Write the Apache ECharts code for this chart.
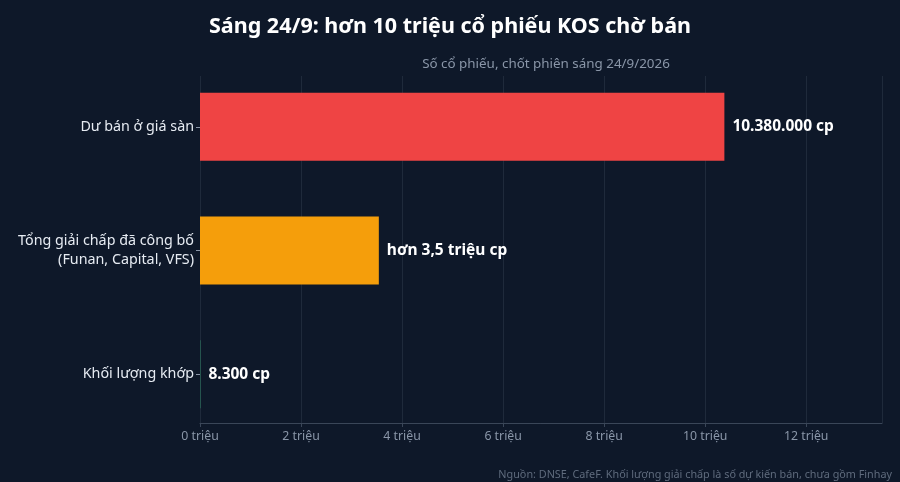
<!DOCTYPE html>
<html>
<head>
<meta charset="utf-8">
<script src="https://cdn.jsdelivr.net/npm/echarts@6/dist/echarts.min.js"></script>
<style>
  html, body { margin: 0; padding: 0; background: #0e1829; }
  #chart { width: 900px; height: 482px; }
</style>
</head>
<body>
<div id="chart"></div>
<script>
// du lieu
var categories = ['Khối lượng khớp', 'Tổng giải chấp đã công bố\n(Funan, Capital, VFS)', 'Dư bán ở giá sàn'];
var values = [8300, 3540000, 10380000];
var valueLabels = ['8.300 cp', 'hơn 3,5 triệu cp', '10.380.000 cp'];
var barColors = ['#2f8f6a', '#f59e0b', '#ef4444'];
var xMax = 13500000;
var xStep = 2000000;

var chart = echarts.init(document.getElementById('chart'));

var option = {
  backgroundColor: '#0e1829',
  textStyle: { fontFamily: 'Noto Sans' },
  title: [
    {
      text: 'Sáng 24/9: hơn 10 triệu cổ phiếu KOS chờ bán',
      left: 'center',
      top: 11,
      textStyle: { color: '#ffffff', fontSize: 21.5, fontWeight: 'bold', fontFamily: 'Noto Sans' }
    },
    {
      text: 'Số cổ phiếu, chốt phiên sáng 24/9/2026',
      left: 541,
      textAlign: 'center',
      top: 53,
      textStyle: { color: '#8a96a8', fontSize: 13.4, fontWeight: 'normal', fontFamily: 'Noto Sans' }
    },
    {
      text: 'Nguồn: DNSE, CafeF. Khối lượng giải chấp là số dự kiến bán, chưa gồm Finhay',
      right: 3,
      top: 464,
      textStyle: { color: '#5f6b7d', fontSize: 10.8, fontWeight: 'normal', fontFamily: 'Noto Sans' }
    }
  ],
  // grid 0: truc x + luoi, grid 1: cac thanh
  grid: [
    { left: 200, right: 18, top: 76, bottom: 59, containLabel: false },
    { left: 200, right: 18, top: 65, bottom: 46, containLabel: false }
  ],
  xAxis: [
    {
      gridIndex: 0,
      type: 'value',
      min: 0,
      max: xMax,
      interval: xStep,
      axisLine: { show: true, lineStyle: { color: '#3a4658' } },
      axisTick: { show: true, length: 4, lineStyle: { color: '#3a4658' } },
      splitLine: { show: true, lineStyle: { color: '#1f2a3b' } },
      axisLabel: {
        color: '#8a96a8',
        fontSize: 12.3,
        margin: 7,
        showMaxLabel: false,
        formatter: function (v) { return (v / 1000000) + ' triệu'; }
      }
    },
    {
      gridIndex: 1,
      type: 'value',
      min: 0,
      max: xMax,
      show: false
    }
  ],
  yAxis: [
    {
      gridIndex: 0,
      type: 'category',
      data: categories,
      show: false
    },
    {
      gridIndex: 1,
      type: 'category',
      data: categories,
      axisLine: { show: false },
      axisTick: { show: true, length: 4, alignWithLabel: true, lineStyle: { color: '#8a96a8' } },
      axisLabel: { color: '#e6ebf2', fontSize: 14.3, margin: 6, lineHeight: 19, align: 'right' }
    }
  ],
  series: [
    {
      type: 'bar',
      xAxisIndex: 1,
      yAxisIndex: 1,
      data: values.map(function (v, i) {
        return { value: v, itemStyle: { color: barColors[i] } };
      }),
      barWidth: 68,
      label: {
        show: true,
        position: 'right',
        distance: 8,
        color: '#ffffff',
        fontSize: 15.5,
        fontWeight: 'bold',
        formatter: function (p) { return valueLabels[p.dataIndex]; }
      }
    }
  ]
};

chart.setOption(option);
</script>
</body>
</html>
